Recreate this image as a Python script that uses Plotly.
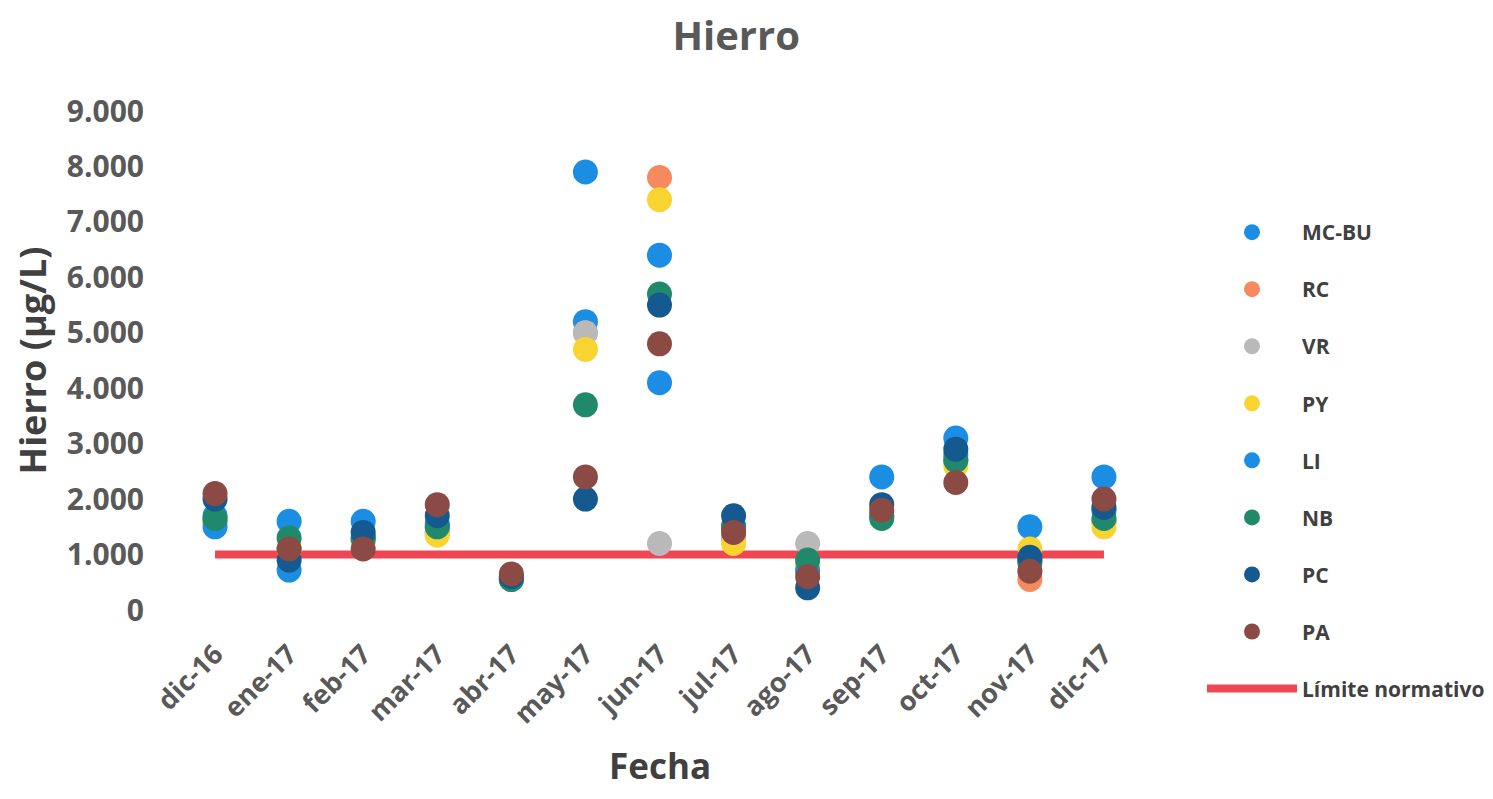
import plotly.graph_objects as go

categories = ["dic-16", "ene-17", "feb-17", "mar-17", "abr-17", "may-17", "jun-17",
              "jul-17", "ago-17", "sep-17", "oct-17", "nov-17", "dic-17"]

mc_bu = [1700, 1600, 1600, 1500, 550, 5200, 6400, 1500, 800, 2400, 3100, 1500, 2400]
rc = [1600, 1100, 1250, 1400, 600, 5000, 7800, 1300, 800, 1700, 2700, 550, 1600]
vr = [1600, 1100, 1250, 1400, 600, 5000, 1200, 1300, 1200, 1700, 2700, 900, 1600]
py = [1600, 1100, 1250, 1350, 550, 4700, 7400, 1200, 800, 1700, 2600, 1100, 1500]
li = [1500, 720, 1300, 1550, 550, 7900, 4100, 1500, 700, 1700, 2800, 900, 1800]
nb = [1650, 1300, 1300, 1500, 550, 3700, 5700, 1500, 900, 1650, 2700, 850, 1650]
pc = [2000, 900, 1400, 1700, 600, 2000, 5500, 1700, 400, 1900, 2900, 950, 1850]
pa = [2100, 1100, 1100, 1900, 650, 2400, 4800, 1400, 600, 1800, 2300, 700, 2000]
limite = [1000] * 13

series = [
    ("MC-BU", mc_bu, "#1B8EE3"),
    ("RC", rc, "#F58A5E"),
    ("VR", vr, "#B9B9B9"),
    ("PY", py, "#F9D431"),
    ("LI", li, "#1B8EE3"),
    ("NB", nb, "#21896B"),
    ("PC", pc, "#14598F"),
    ("PA", pa, "#8C4A44"),
]

FONT = "Open Sans"
W, H = 1477, 783
fig = go.Figure()

fig.add_trace(go.Scatter(
    x=categories, y=limite, mode="lines", name="Límite normativo",
    line=dict(color="#EE4653", width=8), legendrank=2000, legendgroup="lim",
))

for i, (name, vals, color) in enumerate(series):
    fig.add_trace(go.Scatter(
        x=categories, y=vals, mode="markers", name=name,
        marker=dict(color=color, size=25, line=dict(width=0)),
        legendrank=100 + i, legendgroup=name,
    ))

fig.update_layout(
    width=W, height=H,
    margin=dict(l=170, r=344, t=103, b=181, autoexpand=False),
    plot_bgcolor="white", paper_bgcolor="white",
    separators=",.",
    title=dict(text="<b>Hierro</b>", x=0.493, xref="container", xanchor="center",
               y=1 - 28 / H, yref="container", yanchor="middle",
               font=dict(family=FONT, size=40, color="#595959")),
    showlegend=True,
    legend=dict(x=1194 / W, xref="container", xanchor="left",
                y=1 - 204 / H, yref="container", yanchor="top",
                font=dict(family=FONT, size=21, color="#404040", weight="bold"),
                tracegroupgap=26.75, itemsizing="trace", itemwidth=90,
                maxheight=700, bgcolor="rgba(0,0,0,0)"),
    xaxis=dict(
        type="category", categoryorder="array", categoryarray=categories,
        range=[-0.5, 12.5], showgrid=False, showline=False, zeroline=False,
        automargin=False,
        tickangle=-45, ticks="", ticklabelstandoff=22,
        tickfont=dict(family=FONT, size=27, color="#595959", weight="bold"),
    ),
    yaxis=dict(
        range=[0, 9000], dtick=1000, tick0=0, tickformat=",.0f",
        showgrid=False, showline=False, zeroline=False, ticks="",
        automargin=False, ticklabelstandoff=33,
        tickfont=dict(family=FONT, size=30, color="#595959", weight="bold"),
        title=dict(text="<b>Hierro (µg/L)</b>", standoff=24,
                   font=dict(family=FONT, size=36, color="#404040")),
    ),
    annotations=[dict(
        text="<b>Fecha</b>", xref="paper", yref="paper", x=0.5, y=-(758 - 602) / 499,
        xanchor="center", yanchor="middle", showarrow=False,
        font=dict(family=FONT, size=35, color="#404040"),
    )],
)

fig.write_html("out.html")
